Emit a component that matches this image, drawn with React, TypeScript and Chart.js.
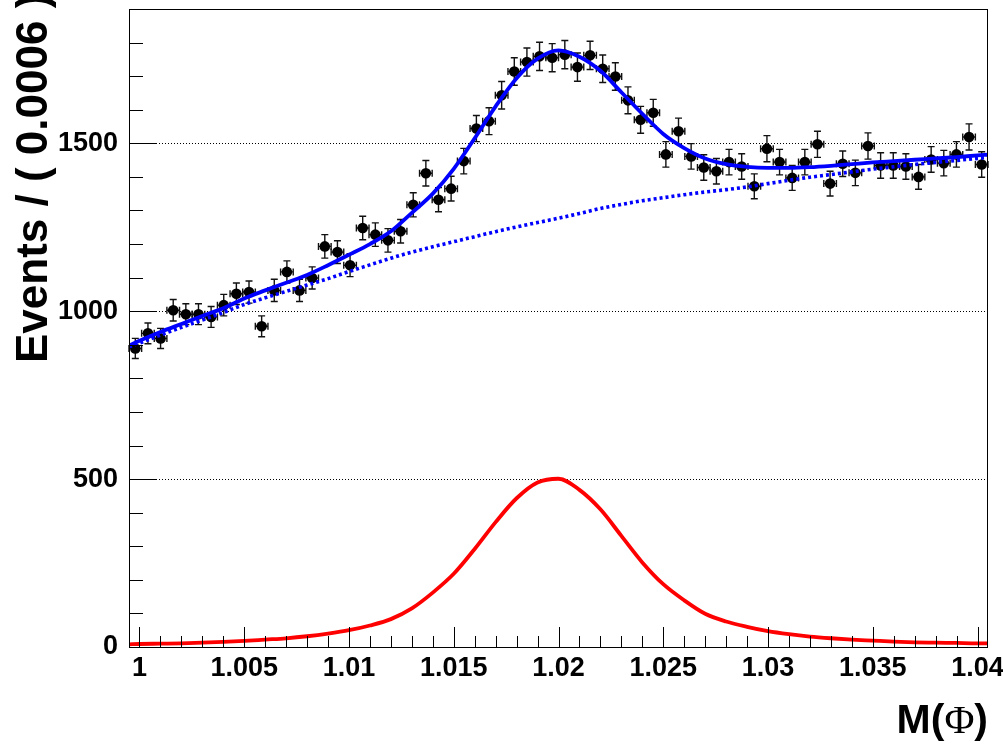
import React, { useEffect, useRef } from "react";
import { Chart, registerables } from "chart.js";

Chart.register(...registerables);

// ---- axis ranges and ticks ----
const X_MIN = 0.9995;
const X_MAX = 1.0405;
const Y_MIN = 0;
const Y_MAX = 1900;
const N_BINS = 68;

const xTickValues = [1.0, 1.005, 1.01, 1.015, 1.02, 1.025, 1.03, 1.035, 1.04];
const xTickLabels = ["1", "1.005", "1.01", "1.015", "1.02", "1.025", "1.03", "1.035", "1.04"];
const xMinorStep = 0.001;
const yTickValues = [0, 500, 1000, 1500];
const yTickLabels = ["0", "500", "1000", "1500"];
const yMinorStep = 100;

const yTitle = "Events / ( 0.0006 )";
const xTitleMain = "M(";
const xTitleSymbol = "\u03A6";
const xTitleEnd = ")";

// ---- data histogram (68 bins) ----
const counts = [
  889, 934, 919, 1003, 991, 991, 983, 1018, 1052, 1057,
  955, 1062, 1117, 1062, 1099, 1193, 1176, 1137, 1248, 1228,
  1211, 1238, 1317, 1411, 1332, 1365, 1447, 1544, 1566, 1643,
  1714, 1742, 1759, 1755, 1764, 1727, 1762, 1722, 1699, 1628,
  1570, 1591, 1467, 1536, 1461, 1428, 1417, 1444, 1431, 1372,
  1484, 1444, 1397, 1444, 1497, 1380, 1439, 1412, 1492, 1434,
  1434, 1431, 1400, 1452, 1441, 1467, 1519, 1437,
];
const countErrors = [
  30, 31, 30, 32, 31, 31, 31, 32, 32, 33,
  31, 33, 33, 33, 33, 35, 34, 34, 35, 35,
  35, 35, 36, 38, 36, 37, 38, 39, 40, 41,
  41, 42, 42, 42, 42, 42, 42, 41, 41, 40,
  40, 40, 38, 39, 38, 38, 38, 38, 38, 37,
  39, 38, 37, 38, 39, 37, 38, 38, 39, 38,
  38, 38, 37, 38, 38, 38, 39, 38,
];

// ---- fitted curves ----
const curveX = [
  0.9995, 1.0, 1.001, 1.002, 1.003, 1.004, 1.005, 1.006, 1.007, 1.008,
  1.009, 1.01, 1.011, 1.012, 1.013, 1.014, 1.015, 1.016, 1.017, 1.018,
  1.019, 1.02, 1.021, 1.022, 1.023, 1.024, 1.025, 1.026, 1.027, 1.028,
  1.029, 1.03, 1.031, 1.032, 1.033, 1.034, 1.035, 1.036, 1.037, 1.038,
  1.039, 1.04, 1.0405,
];
const totalFit = [
  898, 912, 938, 962, 986, 1009, 1038, 1062, 1085, 1108,
  1137, 1168, 1200, 1238, 1293, 1350, 1424, 1515, 1610, 1694,
  1752, 1777, 1758, 1716, 1652, 1588, 1528, 1486, 1455, 1438,
  1430, 1427, 1427, 1429, 1433, 1438, 1443, 1447, 1451, 1455,
  1459, 1464, 1466,
];
const backgroundFit = [
  894, 905, 929, 952, 974, 996, 1020, 1040, 1059, 1078,
  1097, 1118, 1138, 1158, 1176, 1192, 1207, 1222, 1237, 1251,
  1264, 1277, 1291, 1306, 1318, 1329, 1338, 1347, 1355, 1362,
  1370, 1380, 1390, 1399, 1407, 1415, 1423, 1430, 1437, 1443,
  1449, 1455, 1458,
];
const signalFit = [
  8, 9, 10, 11, 13, 15, 18, 22, 26, 32,
  40, 50, 64, 83, 115, 162, 218, 292, 372, 443,
  490, 501, 468, 410, 331, 252, 187, 139, 99, 76,
  60, 47, 38, 31, 26, 22, 19, 16, 14, 13,
  12, 11, 11,
];

const FONT = '"Liberation Sans", Arial, Helvetica, sans-serif';

const binWidth = (X_MAX - X_MIN) / N_BINS;
const binCenters = counts.map((_, i) => X_MIN + (i + 0.5) * binWidth);

const rootStyle = {
  id: "rootStyle",
  beforeDatasetsDraw(chart: any) {
    const { ctx, chartArea: a, scales } = chart;
    const x = scales.x;
    const y = scales.y;
    ctx.save();
    // dotted horizontal grid at major y ticks
    ctx.strokeStyle = "#000";
    ctx.lineWidth = 1;
    ctx.setLineDash([1, 2]);
    for (const v of yTickValues) {
      if (v === 0) continue;
      const py = Math.round(y.getPixelForValue(v)) + 0.5;
      ctx.beginPath();
      ctx.moveTo(a.left, py);
      ctx.lineTo(a.right, py);
      ctx.stroke();
    }
    ctx.setLineDash([]);
    // error bars
    ctx.strokeStyle = "#111";
    ctx.lineWidth = 1.4;
    const cap = 3.5;
    for (let i = 0; i < counts.length; i++) {
      const cx = x.getPixelForValue(binCenters[i]);
      const cy = y.getPixelForValue(counts[i]);
      const top = y.getPixelForValue(counts[i] + countErrors[i]);
      const bot = y.getPixelForValue(counts[i] - countErrors[i]);
      const xl = x.getPixelForValue(binCenters[i] - binWidth / 2);
      const xr = x.getPixelForValue(binCenters[i] + binWidth / 2);
      ctx.beginPath();
      ctx.moveTo(cx, top);
      ctx.lineTo(cx, bot);
      ctx.moveTo(cx - cap, top);
      ctx.lineTo(cx + cap, top);
      ctx.moveTo(cx - cap, bot);
      ctx.lineTo(cx + cap, bot);
      ctx.moveTo(xl, cy);
      ctx.lineTo(xr, cy);
      ctx.moveTo(xl, cy - cap);
      ctx.lineTo(xl, cy + cap);
      ctx.moveTo(xr, cy - cap);
      ctx.lineTo(xr, cy + cap);
      ctx.stroke();
    }
    ctx.restore();
  },
  afterDraw(chart: any) {
    const { ctx, chartArea: a, scales } = chart;
    const x = scales.x;
    const y = scales.y;
    ctx.save();
    ctx.strokeStyle = "#000";
    ctx.lineWidth = 1;
    // frame
    ctx.strokeRect(Math.round(a.left) + 0.5, Math.round(a.top) + 0.5,
      Math.round(a.right - a.left) - 1, Math.round(a.bottom - a.top));
    // y ticks (inside)
    const nY = Math.floor((Y_MAX - Y_MIN) / yMinorStep);
    for (let k = 0; k < nY; k++) {
      const v = Y_MIN + k * yMinorStep;
      const major = v % 500 === 0;
      const py = Math.round(y.getPixelForValue(v)) + 0.5;
      ctx.beginPath();
      ctx.moveTo(a.left, py);
      ctx.lineTo(a.left + (major ? 27 : 14), py);
      ctx.stroke();
    }
    // x ticks (inside)
    for (let k = 0; k <= 40; k++) {
      const v = 1 + k * xMinorStep;
      const major = k % 5 === 0;
      const px = Math.round(x.getPixelForValue(v)) + 0.5;
      ctx.beginPath();
      ctx.moveTo(px, a.bottom);
      ctx.lineTo(px, a.bottom - (major ? 20 : 11));
      ctx.stroke();
    }
    // y title (runs past the top edge of the canvas, as in the original)
    ctx.fillStyle = "#000";
    ctx.save();
    ctx.translate(47, 363);
    ctx.rotate(-Math.PI / 2);
    ctx.font = `bold 44px ${FONT}`;
    ctx.textAlign = "left";
    ctx.textBaseline = "alphabetic";
    ctx.fillText(yTitle, 0, 0);
    ctx.restore();
    // x title
    const bold = `bold 41px ${FONT}`;
    const serif = `41px "Liberation Serif", "DejaVu Serif", serif`;
    ctx.font = bold;
    const wEnd = ctx.measureText(xTitleEnd).width;
    const wMain = ctx.measureText(xTitleMain).width;
    ctx.font = serif;
    const wSym = ctx.measureText(xTitleSymbol).width;
    let tx = 988 - wEnd - wSym - wMain;
    const ty = 733;
    ctx.textBaseline = "alphabetic";
    ctx.textAlign = "left";
    ctx.font = bold;
    ctx.fillText(xTitleMain, tx, ty);
    tx += wMain;
    ctx.font = serif;
    ctx.fillText(xTitleSymbol, tx, ty);
    tx += wSym;
    ctx.font = bold;
    ctx.fillText(xTitleEnd, tx, ty);
    ctx.restore();
  },
};

export default function App() {
  const ref = useRef<HTMLCanvasElement | null>(null);
  useEffect(() => {
    const canvas = ref.current;
    if (!canvas) return;
    const toPts = (ys: number[]) => curveX.map((xv, i) => ({ x: xv, y: ys[i] }));
    const chart = new Chart(canvas, {
      type: "scatter",
      data: {
        datasets: [
          {
            type: "line",
            label: "total",
            data: toPts(totalFit),
            borderColor: "#0000ff",
            borderWidth: 3.8,
            pointRadius: 0,
            cubicInterpolationMode: "monotone",
            fill: false,
            order: 0,
          } as any,
          {
            type: "line",
            label: "background",
            data: toPts(backgroundFit),
            borderColor: "#0000ff",
            borderWidth: 3.6,
            borderDash: [3, 3],
            pointRadius: 0,
            cubicInterpolationMode: "monotone",
            fill: false,
            order: 1,
          } as any,
          {
            type: "line",
            label: "signal",
            data: toPts(signalFit),
            borderColor: "#ff0000",
            borderWidth: 3.8,
            pointRadius: 0,
            cubicInterpolationMode: "monotone",
            fill: false,
            order: 2,
          } as any,
          {
            type: "scatter",
            label: "data",
            data: binCenters.map((xv, i) => ({ x: xv, y: counts[i] })),
            pointRadius: 5.3,
            pointBackgroundColor: "#000",
            pointBorderWidth: 0,
            order: 3,
          } as any,
        ],
      },
      options: {
        animation: false,
        responsive: false,
        events: [],
        layout: { padding: { left: 0, top: 9, right: 15, bottom: 0 } },
        plugins: { legend: { display: false }, tooltip: { enabled: false } },
        scales: {
          x: {
            type: "linear",
            min: X_MIN,
            max: X_MAX,
            grid: { display: false },
            border: { display: false },
            afterBuildTicks: (s: any) => {
              s.ticks = xTickValues.map((v) => ({ value: v }));
            },
            afterFit: (s: any) => {
              s.height = 97;
              s.paddingLeft = 0;
              s.paddingRight = 0;
            },
            ticks: {
              autoSkip: false,
              maxRotation: 0,
              color: "#000",
              padding: -3,
              font: { family: FONT, size: 27, weight: "bold" },
              callback: (_v: any, i: number) => xTickLabels[i],
            },
          },
          y: {
            type: "linear",
            min: Y_MIN,
            max: Y_MAX,
            grid: { display: false },
            border: { display: false },
            afterBuildTicks: (s: any) => {
              s.ticks = yTickValues.map((v) => ({ value: v }));
            },
            afterFit: (s: any) => {
              s.width = 129;
              s.paddingTop = 0;
              s.paddingBottom = 0;
            },
            ticks: {
              autoSkip: false,
              color: "#000",
              padding: 3,
              font: { family: FONT, size: 27, weight: "bold" },
              callback: (_v: any, i: number) => yTickLabels[i],
            },
          },
        },
      },
      plugins: [rootStyle],
    } as any);
    return () => chart.destroy();
  }, []);

  return (
    <div style={{ position: "fixed", left: 0, top: 0, width: 1003, height: 744, background: "#fff" }}>
      <canvas ref={ref} width={1003} height={744} style={{ width: 1003, height: 744, display: "block" }} />
    </div>
  );
}
